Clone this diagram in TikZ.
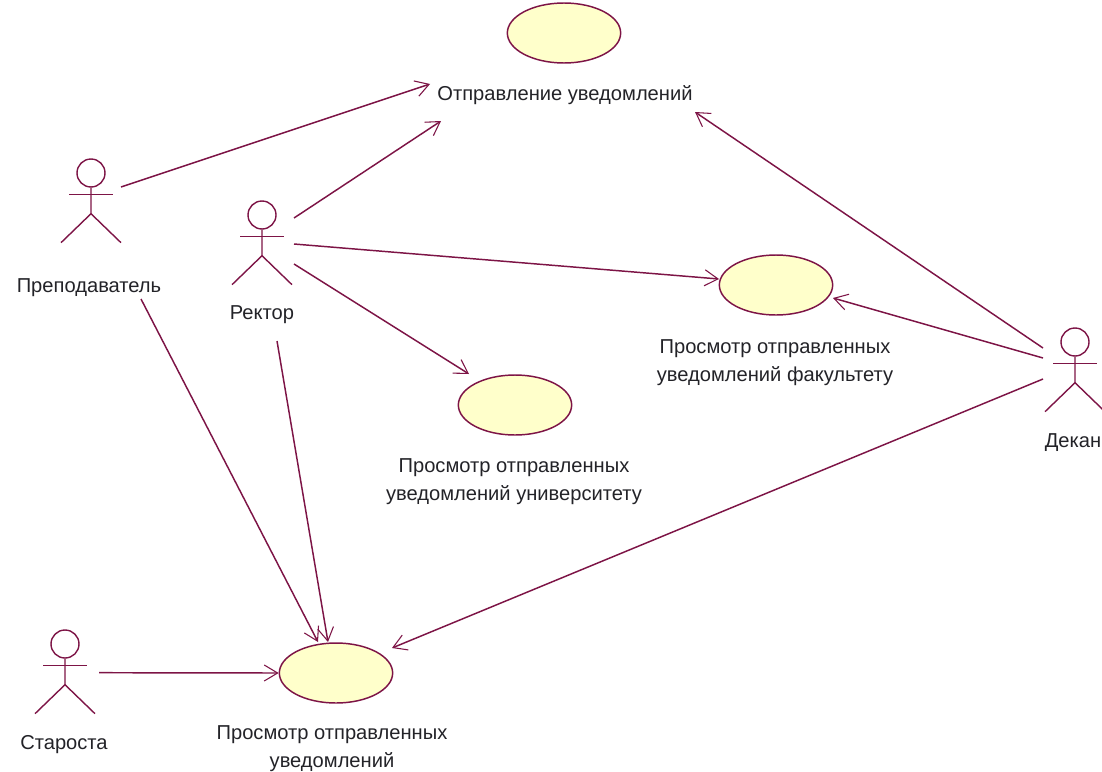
\documentclass[tikz,border=0pt]{standalone}
\usepackage{fontspec}
\setmainfont{Liberation Sans}
\usetikzlibrary{arrows.meta,calc,shapes.geometric}
\definecolor{umlline}{RGB}{125,20,70}
\definecolor{umlfill}{RGB}{255,255,203}
\definecolor{umltext}{RGB}{35,35,40}
\tikzset{
  umluse/.style={draw=umlline,fill=umlfill,ellipse,line width=1.1pt,minimum width=85pt,minimum height=45pt,inner sep=0pt},
  umlhead/.style={draw=umlline,circle,line width=1.05pt,minimum size=21pt,inner sep=0pt},
  umllimb/.style={draw=umlline,line width=1.05pt},
  umlarrow/.style={draw=umlline,line width=1.1pt,-{Straight Barb[length=10pt,width=12pt,line width=0.8pt]}},
  umllabel/.style={text=umltext,font=\fontsize{15.1}{21}\selectfont,align=center,inner sep=0pt}
}
\newcommand{\umlactor}[3]{% name, x, y of head centre
  \node[umlhead] (#1) at (#2,#3) {};
  \path[umllimb] (#1.south) -- ++(0,26) coordinate (#1hip) -- ++(-30,29);
  \path[umllimb] (#1hip) -- ++(30,29);
  \path[umllimb] ($(#1.south)+(-22,7)$) -- ++(44,0);
}
\begin{document}
\begin{tikzpicture}[x=0.75pt,y=-0.75pt]
\useasboundingbox (0,0) rectangle (1102,771);
\fill[white] (0,0) rectangle (1102,771);
\umlactor{prep}{91}{173}
\umlactor{rekt}{262}{215}
\umlactor{dek}{1075}{342}
\umlactor{star}{65}{644}
\node[umluse] (send) at (564,33) {};
\node[umluse] (fac) at (776,285) {};
\node[umluse] (univ) at (515,405) {};
\node[umluse] (all) at (336,673) {};
\node[umllabel] (lsend) at (565,95) {Отправление уведомлений};
\node[umllabel] (lfac) at (775,363) {Просмотр отправленных\\уведомлений факультету};
\node[umllabel] (luniv) at (514,482) {Просмотр отправленных\\уведомлений университету};
\node[umllabel] (lall) at (332,748.5) {Просмотр отправленных\\уведомлений};
\node[umllabel] (lprep) at (89,287.5) {Преподаватель};
\node[umllabel] (lrekt) at (262,315) {Ректор};
\node[umllabel] (ldek) at (1073,442.5) {Декан};
\node[umllabel] (lstar) at (64,745) {Староста};
\coordinate (p1) at (121,187);
\coordinate (p2) at (141,299);
\coordinate (r1) at (294,218);
\coordinate (r2) at (294,244);
\coordinate (r3) at (294,264);
\coordinate (r4) at (277,341);
\coordinate (d1) at (1043,348);
\coordinate (d2) at (1043,358);
\coordinate (d3) at (1043,379);
\coordinate (s1) at (99,672.7);
\coordinate (t1) at (430,84);
\coordinate (t2) at (441,121);
\coordinate (t3) at (695,112);
\coordinate (a1) at (318,642);
\coordinate (a2) at (328,642);
\coordinate (a3) at (392,648);
\coordinate (u1) at (469,374);
\coordinate (f1) at (719,279);
\coordinate (f2) at (833,298);
\path[umlarrow] (p1) -- (t1);
\path[umlarrow] (r1) -- (t2);
\path[umlarrow] (r2) -- (f1);
\path[umlarrow] (r3) -- (u1);
\path[umlarrow] (r4) -- (a2);
\path[umlarrow] (p2) -- (a1);
\path[umlarrow] (d1) -- (t3);
\path[umlarrow] (d2) -- (f2);
\path[umlarrow] (d3) -- (a3);
\path[umlarrow] (s1) -- (all.west);
\end{tikzpicture}
\end{document}
